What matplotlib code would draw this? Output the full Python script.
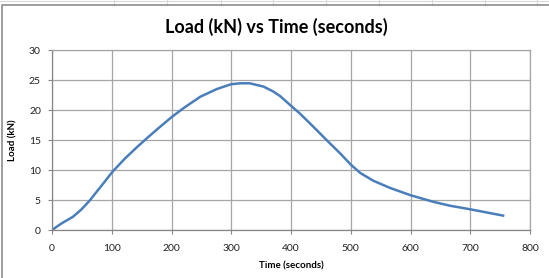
import matplotlib.pyplot as plt
from matplotlib.lines import Line2D

# values
time_s = [0, 16, 35, 49, 63, 83, 102, 122, 141, 160, 175, 200, 220, 248, 276, 300, 315, 331,
          354, 370, 382, 400, 415, 437, 462, 482, 500, 516, 538, 566, 600, 638, 666, 700, 755]
load_kn = [0, 1.1, 2.2, 3.4, 4.9, 7.4, 9.8, 11.9, 13.7, 15.4, 16.7, 18.8, 20.3, 22.2, 23.5, 24.3, 24.45, 24.45,
           23.9, 23.1, 22.3, 20.7, 19.4, 17.25, 14.75, 12.8, 10.9, 9.5, 8.2, 7.0, 5.8, 4.7, 4.05, 3.45, 2.4]
x_ticks = [0, 100, 200, 300, 400, 500, 600, 700, 800]
y_ticks = [0, 5, 10, 15, 20, 25, 30]

plt.rcParams['font.family'] = ['Lato', 'DejaVu Sans']

W, H = 549, 278
fig = plt.figure(figsize=(W / 100, H / 100), dpi=100)
ax = fig.add_axes([52 / W, 1 - 230 / H, (530 - 52) / W, (230 - 50) / H])

# spreadsheet cells behind the chart and the chart frame
for x in [114, 167, 221, 273, 326, 379, 432, 485, 537]:
    fig.add_artist(Line2D([x / W, x / W], [1, 1 - 4.5 / H], color='#d9d9d9', lw=0.8))
fig.add_artist(Line2D([0, 1], [1 - 1 / H, 1 - 1 / H], color='#d9d9d9', lw=0.8))
fig.add_artist(Line2D([1.5 / W, 1.5 / W, 1], [0, 1 - 4.5 / H, 1 - 4.5 / H], color='#8c8c8c', lw=1.2))

ax.plot(time_s, load_kn, color='#4a7ebb', lw=1.8, solid_joinstyle='round')

ax.set_xlim(0, 800)
ax.set_ylim(0, 30)
ax.set_xticks(x_ticks)
ax.set_yticks(y_ticks)
ax.grid(True, color='#a6a6a6', lw=0.9)
ax.set_axisbelow(True)
for s in ax.spines.values():
    s.set_color('#a6a6a6')
    s.set_linewidth(0.9)
ax.spines['left'].set_color('#868686')
ax.spines['bottom'].set_color('#868686')
ax.tick_params(axis='x', length=3, color='#868686', pad=7, labelsize=7.5, labelcolor='#222222')
ax.tick_params(axis='y', length=3, color='#868686', pad=5, labelsize=7.5, labelcolor='#222222')

ax.set_xlabel('Time (seconds)', fontsize=7, fontweight='bold', labelpad=6)
ax.set_ylabel('Load (kN)', fontsize=7, fontweight='bold', labelpad=8)
fig.text(276 / W, 1 - 27 / H, 'Load (kN) vs Time (seconds)', ha='center', va='center',
         fontsize=13, fontweight='bold')

fig.savefig('out.png', dpi=100)
